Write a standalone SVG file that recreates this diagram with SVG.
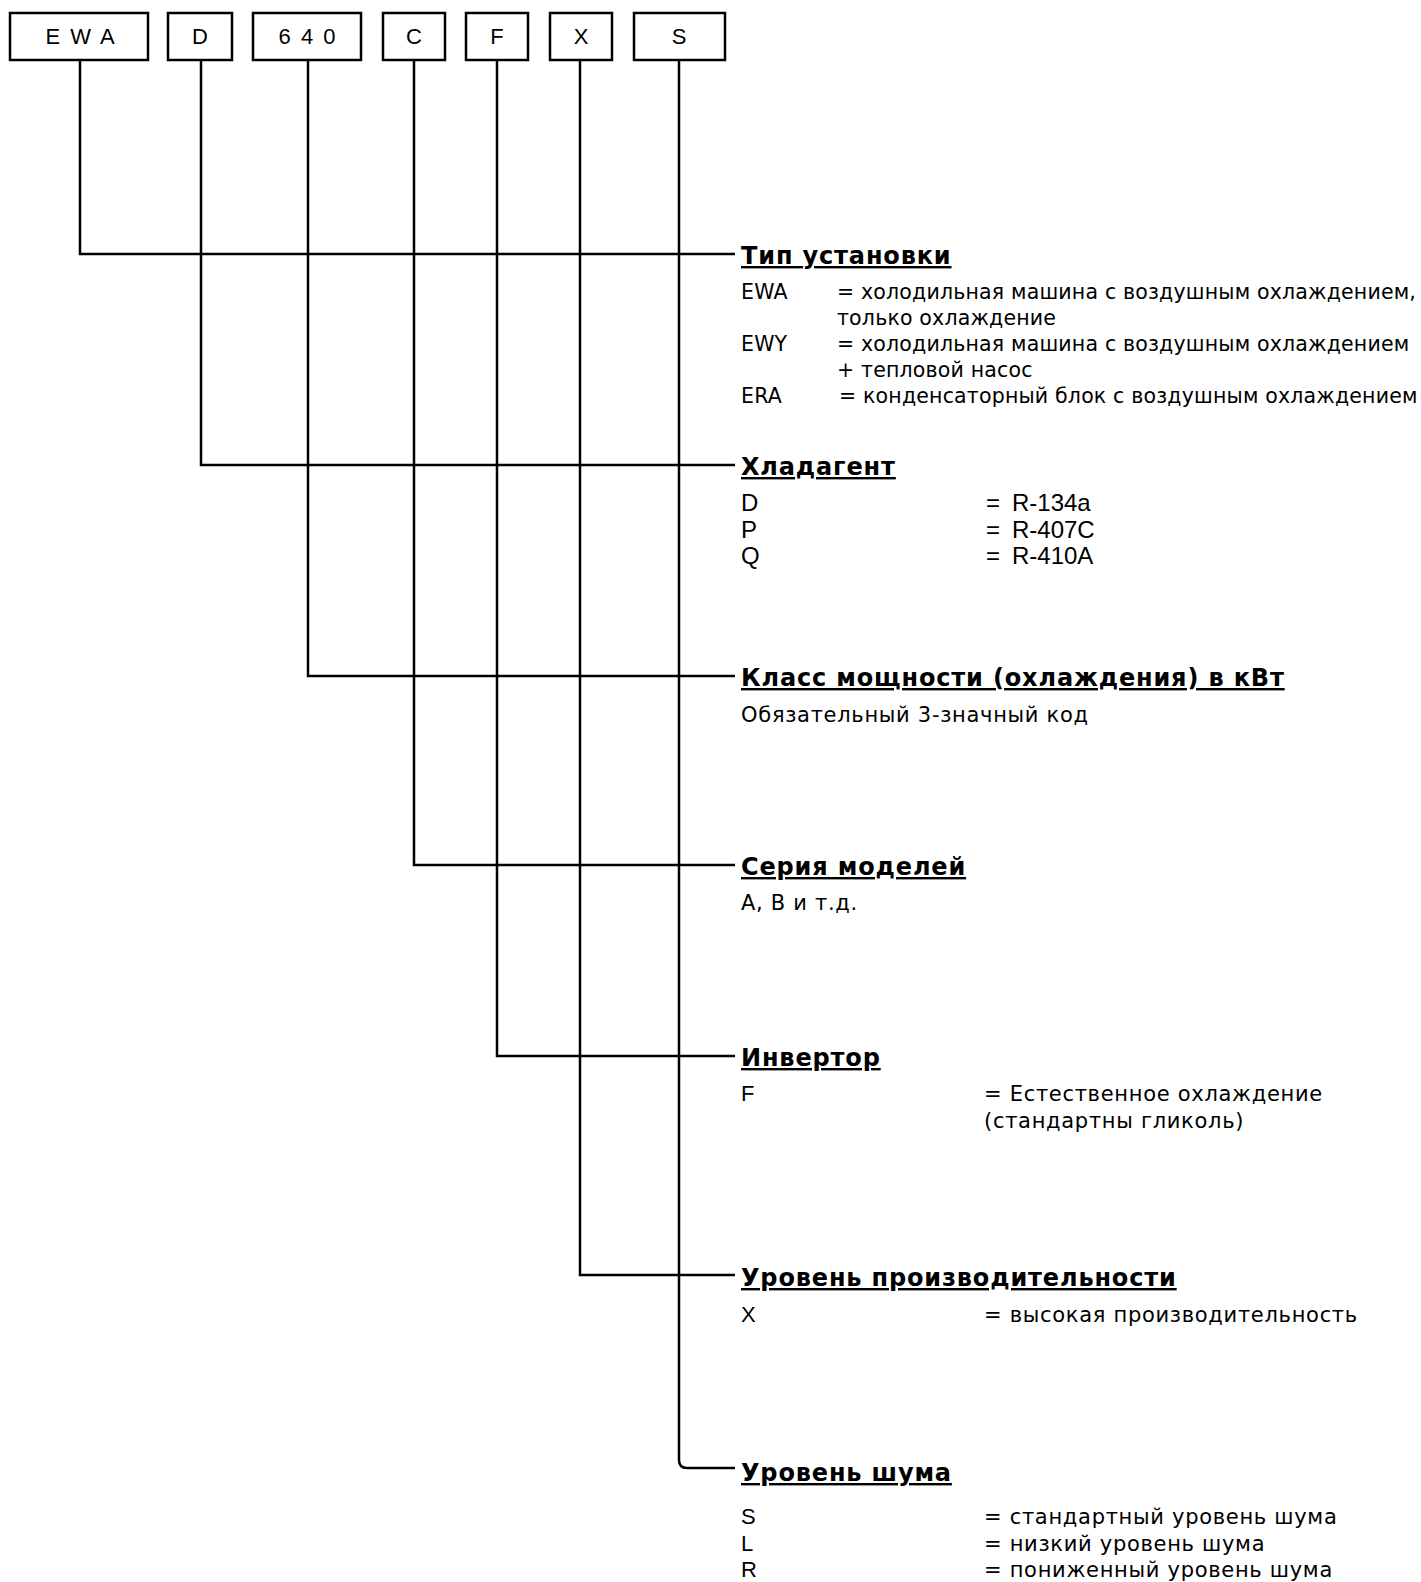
<svg xmlns="http://www.w3.org/2000/svg" width="1421" height="1582" viewBox="0 0 1421 1582">
<style>
.box{fill:#fff;stroke:#000;stroke-width:2.5}
.bt{font-family:"Liberation Sans",Arial,sans-serif;font-size:22px;letter-spacing:2px;fill:#000;text-anchor:middle}
.con{fill:none;stroke:#000;stroke-width:2.5}
.h{font-family:"DejaVu Sans",Verdana,sans-serif;font-weight:bold;font-size:24px;letter-spacing:0.85px;fill:#000;text-decoration:underline}
.t1{font-family:"DejaVu Sans",Verdana,sans-serif;font-size:20.5px;letter-spacing:0.18px;fill:#000}
.t{font-family:"DejaVu Sans",Verdana,sans-serif;font-size:21px;letter-spacing:0.7px;fill:#000}
.c{font-family:"Liberation Sans",Arial,sans-serif;font-size:22px;fill:#000}
.g{font-family:"Liberation Sans",Arial,sans-serif;font-size:24px;fill:#000}
</style>
<rect width="1421" height="1582" fill="#fff"/>
<g id="connectors">
<path class="con" d="M80 60V254H735"/>
<path class="con" d="M201 60V465H735"/>
<path class="con" d="M308 60V676H735"/>
<path class="con" d="M414 60V865H735"/>
<path class="con" d="M497 60V1056H735"/>
<path class="con" d="M580 60V1275H735"/>
<path class="con" d="M679 60V1460Q679 1468 687 1468H735"/>
</g>
<g id="box-ewa"><rect class="box" x="10" y="13" width="138" height="47"/><text class="bt" x="81" y="44">E W A</text></g>
<g id="box-d"><rect class="box" x="168" y="13" width="64" height="47"/><text class="bt" x="201" y="44">D</text></g>
<g id="box-640"><rect class="box" x="253" y="13" width="108" height="47"/><text class="bt" x="308" y="44">6 4 0</text></g>
<g id="box-c"><rect class="box" x="383" y="13" width="62" height="47"/><text class="bt" x="415" y="44">C</text></g>
<g id="box-f"><rect class="box" x="466" y="13" width="62" height="47"/><text class="bt" x="498" y="44">F</text></g>
<g id="box-x"><rect class="box" x="550" y="13" width="62" height="47"/><text class="bt" x="582" y="44">X</text></g>
<g id="box-s"><rect class="box" x="634" y="13" width="91" height="47"/><text class="bt" x="680" y="44">S</text></g>

<g id="sec-type">
<text class="h" x="741" y="264">Тип установки</text>
<text class="t1" x="741" y="299">EWA</text><text class="t1" x="837" y="299">= холодильная машина с воздушным охлаждением,</text>
<text class="t1" x="837" y="325">только охлаждение</text>
<text class="t1" x="741" y="351">EWY</text><text class="t1" x="837" y="351">= холодильная машина с воздушным охлаждением</text>
<text class="t1" x="837" y="377">+ тепловой насос</text>
<text class="t1" x="741" y="403">ERA</text><text class="t1" x="839" y="403">= конденсаторный блок с воздушным охлаждением</text>
</g>
<g id="sec-refrigerant">
<text class="h" x="741" y="475">Хладагент</text>
<text class="g" x="741" y="511">D</text><text class="g" x="986" y="511">=</text><text class="g" x="1012" y="511">R-134a</text>
<text class="g" x="741" y="538">P</text><text class="g" x="986" y="538">=</text><text class="g" x="1012" y="538">R-407C</text>
<text class="g" x="741" y="564">Q</text><text class="g" x="986" y="564">=</text><text class="g" x="1012" y="564">R-410A</text>
</g>
<g id="sec-capacity">
<text class="h" x="741" y="686">Класс мощности (охлаждения) в кВт</text>
<text class="t" x="741" y="722">Обязательный 3-значный код</text>
</g>
<g id="sec-series">
<text class="h" x="741" y="875">Серия моделей</text>
<text class="t" x="741" y="910">А, В и т.д.</text>
</g>
<g id="sec-inverter">
<text class="h" x="741" y="1066">Инвертор</text>
<text class="c" x="741" y="1101">F</text><text class="t" x="984" y="1101">= Естественное охлаждение</text>
<text class="t" x="984" y="1128">(стандартны гликоль)</text>
</g>
<g id="sec-efficiency">
<text class="h" x="741" y="1286">Уровень производительности</text>
<text class="c" x="741" y="1322">X</text><text class="t" x="984" y="1322">= высокая производительность</text>
</g>
<g id="sec-noise">
<text class="h" x="741" y="1481">Уровень шума</text>
<text class="c" x="741" y="1524">S</text><text class="t" x="984" y="1524">= стандартный уровень шума</text>
<text class="c" x="741" y="1551">L</text><text class="t" x="984" y="1551">= низкий уровень шума</text>
<text class="c" x="741" y="1577">R</text><text class="t" x="984" y="1577">= пониженный уровень шума</text>
</g>
</svg>
